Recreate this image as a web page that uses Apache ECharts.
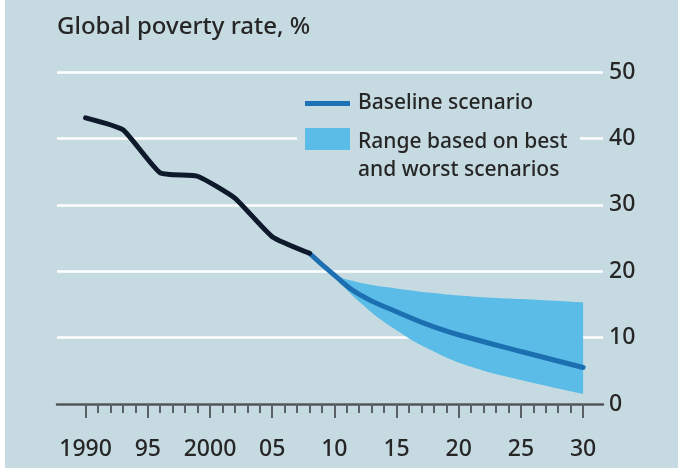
<!DOCTYPE html>
<html>
<head>
<meta charset="utf-8">
<script src="https://cdn.jsdelivr.net/npm/echarts@6/dist/echarts.min.js"></script>
<style>
  html, body { margin: 0; padding: 0; background: #fff; }
  #chart { width: 673px; height: 468px; margin-left: 5px; }
</style>
</head>
<body>
<div id="chart"></div>
<script>
// history (dark line)
const histYears = [1990, 1993, 1996, 1999, 2002, 2005, 2008];
const histRate = [43.1, 41.3, 34.8, 34.3, 31.0, 25.2, 22.7];
// baseline projection
const projYears = [2008, 2010, 2012, 2015, 2018, 2021, 2025, 2030];
const projRate = [22.7, 19.4, 16.5, 13.9, 11.6, 9.9, 7.9, 5.5];
// best / worst range
const bandYears = [2010, 2012, 2015, 2018, 2021, 2025, 2030];
const bandLow = [19.3, 15.4, 11.1, 7.9, 5.6, 3.6, 1.5];
const bandHigh = [19.3, 18.3, 17.4, 16.7, 16.2, 15.8, 15.3];
// axes
const yearTicks = [];
for (let y = 1990; y <= 2030; y++) yearTicks.push(y);
const labelYears = [1990, 1995, 2000, 2005, 2010, 2015, 2020, 2025, 2030];
const labelText = ['1990', '95', '2000', '05', '10', '15', '20', '25', '30'];

const BG = '#c6dae1';
const FONT = 'Noto Sans';
const xMin = 1987.7, xMax = 2031.6;

const chart = echarts.init(document.getElementById('chart'));

const pairs = (xs, ys) => xs.map((x, i) => [x, ys[i]]);
// value first so the stack runs along y (x is a value axis too)
const flipped = (xs, ys) => xs.map((x, i) => [ys[i], x]);

chart.setOption({
  backgroundColor: BG,
  animation: false,
  textStyle: { fontFamily: FONT },
  title: {
    text: 'Global poverty rate, %',
    left: 47, top: 10,
    textStyle: { fontFamily: FONT, fontSize: 24, fontWeight: 500, color: '#262626' }
  },
  grid: { left: 52, right: 75, top: 72, bottom: 64 },
  xAxis: [
    {
      type: 'value', min: xMin, max: xMax,
      axisLine: { show: true, onZero: false, lineStyle: { color: '#4b5257', width: 2.5 } },
      axisTick: { show: true, customValues: yearTicks, length: 9, lineStyle: { color: '#5a6166', width: 2 } },
      axisLabel: { show: false },
      splitLine: { show: false }
    },
    {
      type: 'value', min: xMin, max: xMax, position: 'bottom',
      axisLine: { show: false },
      axisTick: { show: true, customValues: labelYears, length: 14, lineStyle: { color: '#5a6166', width: 2 } },
      axisLabel: {
        show: true, customValues: labelYears, margin: 34,
        fontFamily: FONT, fontSize: 23, fontWeight: 500, color: '#262626',
        formatter: v => labelText[labelYears.indexOf(Math.round(v))]
      },
      splitLine: { show: false }
    }
  ],
  yAxis: {
    type: 'value', position: 'right', min: 0, max: 50, interval: 10,
    axisLine: { show: false },
    axisTick: { show: false },
    axisLabel: { margin: 6, fontFamily: FONT, fontSize: 23, fontWeight: 500, color: '#262626' },
    splitLine: { lineStyle: { color: '#ffffff', width: 2.5 } }
  },
  graphic: [
    { type: 'rect', z: 50, shape: { x: 292, y: 88, width: 283, height: 96 }, style: { fill: BG } },
    { type: 'rect', z: 51, shape: { x: 300, y: 101, width: 45, height: 5 }, style: { fill: '#1c72b4' } },
    { type: 'rect', z: 51, shape: { x: 300, y: 128, width: 45, height: 22 }, style: { fill: '#5bbde7' } },
    { type: 'text', z: 51, left: 353, top: 93, style: { text: 'Baseline scenario', font: '500 21px "Noto Sans"', fill: '#262626' } },
    { type: 'text', z: 51, left: 353, top: 128, style: { text: 'Range based on best\nand worst scenarios', font: '500 21px "Noto Sans"', fill: '#262626', lineHeight: 28 } }
  ],
  series: [
    {
      type: 'line', stack: 'band', smooth: true, symbol: 'none',
      encode: { x: 1, y: 0 },
      data: flipped(bandYears, bandLow),
      lineStyle: { width: 0 }, areaStyle: { opacity: 0 }
    },
    {
      type: 'line', stack: 'band', smooth: true, symbol: 'none',
      encode: { x: 1, y: 0 },
      data: flipped(bandYears, bandHigh.map((h, i) => h - bandLow[i])),
      lineStyle: { width: 0 }, areaStyle: { color: '#5bbde7', opacity: 1 }
    },
    {
      type: 'line', smooth: true, symbol: 'none',
      data: pairs(projYears, projRate),
      lineStyle: { color: '#1c6fb0', width: 5, cap: 'round' }
    },
    {
      type: 'line', smooth: 0.15, symbol: 'none',
      data: pairs(histYears, histRate),
      lineStyle: { color: '#0e1a2c', width: 5, cap: 'round' }
    }
  ]
});
</script>
</body>
</html>
